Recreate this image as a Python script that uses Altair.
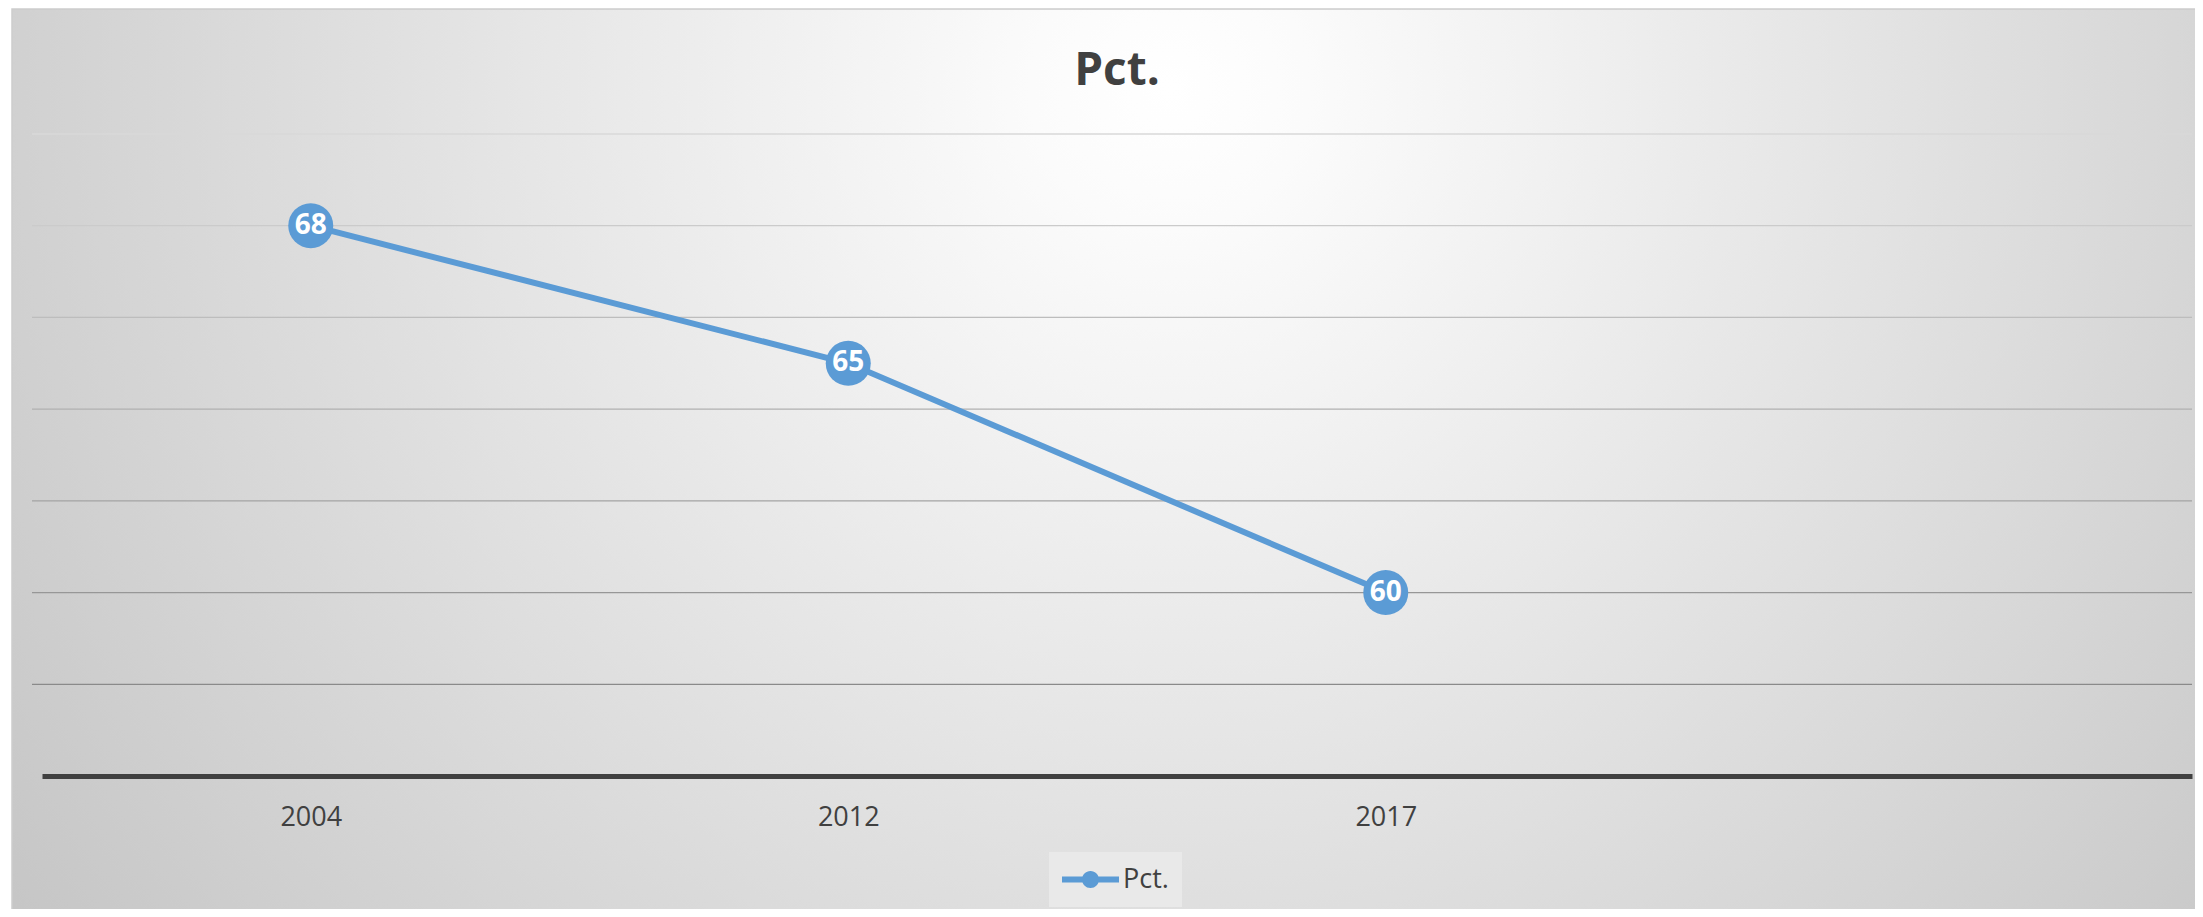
import altair as alt
import pandas as pd

# ---- data ----
years = ["2004", "2012", "2017"]
values = [68, 65, 60]
x_categories = ["2004", "2012", "2017", " "]
grid_values = [58, 60, 62, 64, 66, 68, 70]
series_name = "Pct."
title_text = "Pct."

df = pd.DataFrame({"year": years, "value": values, "series": [series_name] * len(years)})
grid_df = pd.DataFrame({"v": grid_values})

W, H = 2150, 642
BLUE = "#5B9BD5"
TXT = "#404040"
FONT = "Open Sans"

xscale = alt.Scale(domain=x_categories, type="point", padding=0.5)
yscale = alt.Scale(domain=[56, 70], nice=False, zero=False)

bg = alt.Chart(pd.DataFrame({"a": [0]})).mark_rect(
    fill={
        "gradient": "radial",
        "x1": 0.515, "y1": 0.025, "r1": 0,
        "x2": 0.515, "y2": 0.025, "r2": 0.54,
        "stops": [
            {"offset": 0, "color": "#ffffff"},
            {"offset": 0.08, "color": "#fbfbfb"},
            {"offset": 1, "color": "#b9b9b9"},
        ],
    },
    stroke="#cdcdcd",
    strokeWidth=1.5,
).encode(x=alt.value(-30), x2=alt.value(W + 40), y=alt.value(-125), y2=alt.value(3075))

grid = alt.Chart(grid_df).mark_rule(strokeWidth=1.3).encode(
    y=alt.Y("v:Q", scale=yscale, axis=None),
    x=alt.value(-10),
    x2=alt.value(W),
    color=alt.Color("v:Q", scale=alt.Scale(domain=[58, 70], range=["#8a8a8a", "#d8d8d8"]), legend=None),
)

base = alt.Chart(df).encode(
    x=alt.X(
        "year:N",
        scale=xscale,
        sort=x_categories,
        axis=alt.Axis(
            title=None,
            labelFont=FONT,
            labelFontSize=27,
            labelColor=TXT,
            ticks=False,
            tickSize=0,
            labelPadding=41,
            labelBaseline="middle",
            labelAngle=0,
            domainColor=TXT,
            domainWidth=5,
            grid=False,
            zindex=1,
        ),
    ),
    y=alt.Y("value:Q", scale=yscale, axis=None),
)

line = base.mark_line(color=BLUE, strokeWidth=6)

legend_path = (
    "M-1,-0.105H1V0.105H-1Z "
    "M-0.3,0A0.3,0.3 0 1,1 0.3,0A0.3,0.3 0 1,1 -0.3,0Z"
)

points = base.mark_point(filled=True, size=2025, opacity=1, shape="circle").encode(
    color=alt.Color(
        "series:N",
        scale=alt.Scale(range=[BLUE]),
        legend=alt.Legend(
            title=None,
            orient="none",
            legendX=1007,
            legendY=718,
            symbolType=legend_path,
            symbolSize=3249,
            symbolStrokeWidth=0,
            symbolOpacity=1,
            clipHeight=29,
            labelFont=FONT,
            labelFontSize=27,
            labelColor=TXT,
            labelOffset=4,
            fillColor="#e9e9e9",
            padding=13,
        ),
    )
)

labels = base.mark_text(
    font=FONT, fontSize=28, fontWeight="bold", color="white", baseline="middle", align="center"
).encode(text="value:Q")

title = alt.Chart(pd.DataFrame({"t": [title_text]})).mark_text(
    font=FONT, fontSize=46, fontWeight="bold", color=TXT, align="center", baseline="alphabetic"
).encode(text="t:N", x=alt.value(W / 2), y=alt.value(-49))

chart = (
    alt.layer(bg, grid, line, points, labels, title)
    .resolve_scale(color="independent")
    .properties(
        width=W,
        height=H,
        autosize=alt.AutoSizeParams(type="none"),
        padding={"left": 34, "top": 126, "right": 3, "bottom": 133},
        background="white",
    )
    .configure_view(stroke=None)
)

chart.save("out.html", embed_options={"renderer": "svg", "actions": False})
